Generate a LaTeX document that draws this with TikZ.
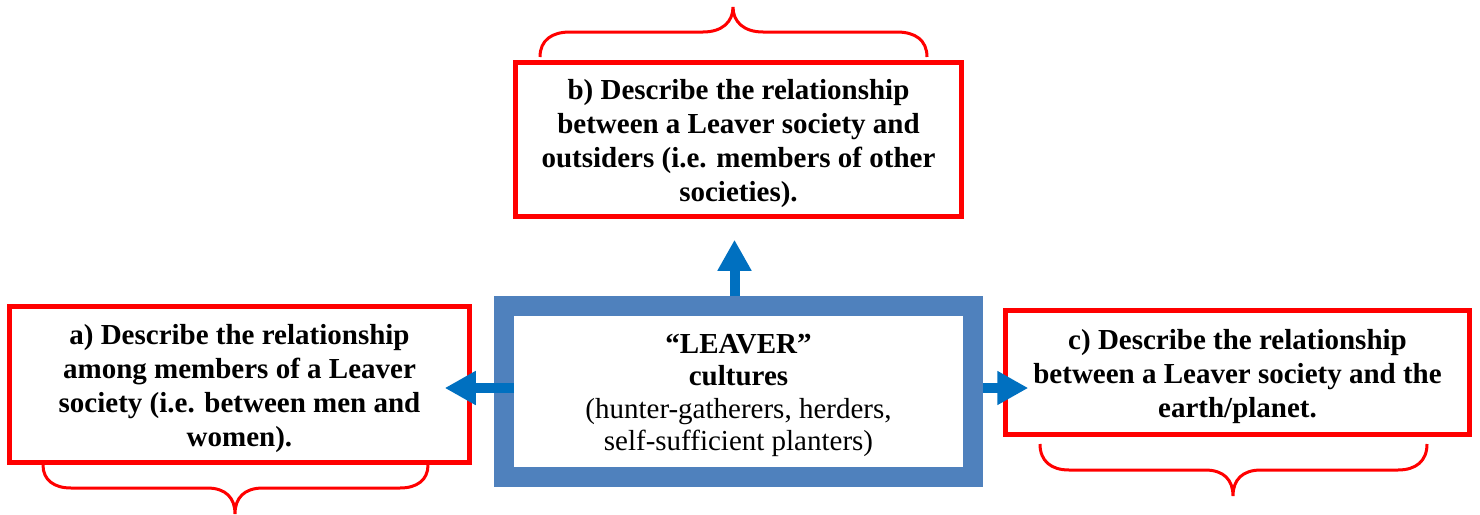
\documentclass[tikz,border=0pt]{standalone}
\usepackage{fontspec}
\setmainfont{Liberation Serif}
\usetikzlibrary{arrows.meta,calc}
\definecolor{bred}{HTML}{FF0000}
\definecolor{cblue}{HTML}{4F81BD}
\definecolor{ablue}{HTML}{0070C0}
\tikzset{
  qbox/.style={draw=bred, fill=white, line width=4.5pt, inner sep=0pt},
  qtext/.style={align=center, inner sep=0pt, font=\bfseries\fontsize{29}{34}\selectfont},
  cbox/.style={draw=cblue, fill=white, line width=20pt, inner sep=0pt},
  ctext/.style={align=center, inner sep=0pt, font=\fontsize{29}{32.5}\selectfont},
  flow/.style={draw=ablue, line width=10pt, -{Triangle[width=32pt,length=31pt]}},
  bracepath/.style={draw=bred, line width=3pt}
}
\begin{document}
\begin{tikzpicture}[x=1pt,y=-1pt]
\useasboundingbox (0,0) rectangle (1480,514);
\node[qbox, minimum width=460pt, minimum height=156pt] (a) at (239.5,384.5) {};
\node[qtext, yshift=-4pt] (atext) at (a.center)
  {a) Describe the relationship\\among members of a Leaver\\society (i.e. between men and\\women).};
\node[qbox, minimum width=446pt, minimum height=154pt] (b) at (738.5,139.5) {};
\node[qtext, yshift=-4pt] (btext) at (b.center)
  {b) Describe the relationship\\between a Leaver society and\\outsiders (i.e. members of other\\societies).};
\node[qbox, minimum width=464pt, minimum height=124pt] (c) at (1237.5,372.5) {};
\node[qtext, yshift=-4pt] (ctextnode) at (c.center)
  {c) Describe the relationship\\between a Leaver society and the\\earth/planet.};
\node[cbox, minimum width=469pt, minimum height=171pt] (m) at (738.5,391.5) {};
\node[ctext, yshift=-4pt] (mtext) at (m.center)
  {\textbf{“LEAVER”}\\\textbf{cultures}\\(hunter-gatherers, herders,\\self-sufficient planters)};

\draw[flow, shorten >=21pt] ([xshift=-4pt]m.north) -- ([xshift=-4pt]b.south);
\draw[flow, shorten <=-20pt, shorten >=-27pt] ([yshift=3.5pt]m.west) -- ([yshift=3.5pt]m.west -| a.east);
\draw[flow, shorten >=-25pt] ([yshift=3.5pt]m.east) -- ([yshift=3.5pt]m.east -| c.west);

% brace above b
\draw[bracepath] (540,57) .. controls (540,40) and (552,32) .. (570,32) -- (703,32)
  .. controls (722,32) and (733,22) .. (733,7) .. controls (733,22) and (744,32) .. (763,32) -- (897,32)
  .. controls (915,32) and (927,40) .. (927,57);
% brace below a
\draw[bracepath] (43,465) .. controls (43,480) and (54,488) .. (71,488) -- (207,488)
  .. controls (226,488) and (235,498) .. (235,514) .. controls (235,498) and (244,488) .. (263,488) -- (400,488)
  .. controls (417,488) and (428,480) .. (428,465);
% brace below c
\draw[bracepath] (1040,444) .. controls (1040,461) and (1051,470) .. (1069,470) -- (1205,470)
  .. controls (1224,470) and (1233,480) .. (1233,496) .. controls (1233,480) and (1242,470) .. (1261,470) -- (1398,470)
  .. controls (1416,470) and (1427,461) .. (1427,444);
\end{tikzpicture}
\end{document}
